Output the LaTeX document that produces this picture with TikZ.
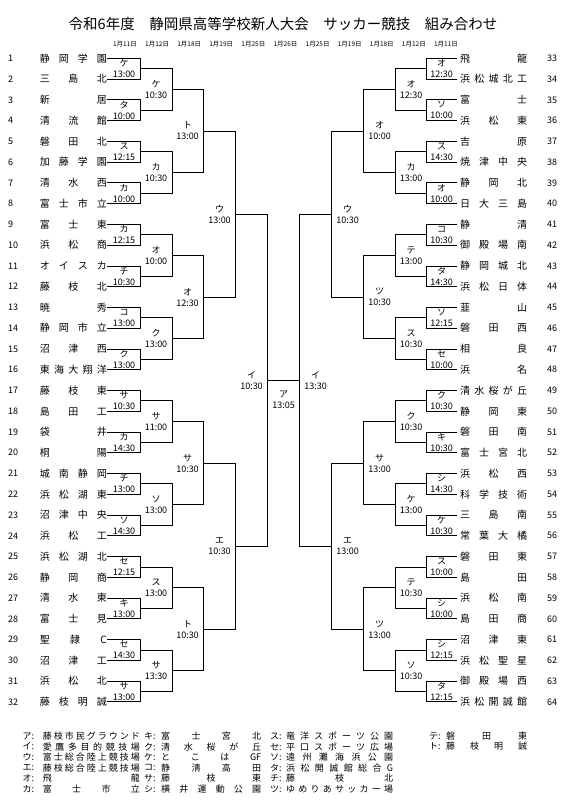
\documentclass[tikz,border=0pt]{standalone}
\usepackage{fontspec}
\setmainfont{Noto Sans CJK JP}
\usetikzlibrary{calc}
\def\endmark{\relax}
\def\spreadfirst#1{#1\spreadi}
\def\spreadi#1{\def\tmparg{#1}\ifx\tmparg\endmark\else\hfill#1\expandafter\spreadi\fi}
\newcommand\spreadname[2]{\hbox to #1{\expandafter\spreadfirst#2\relax}}
\begin{document}
\begin{tikzpicture}[x=1pt,y=-1pt,
  bl/.style={line width=0.8pt,black},
  tname/.style={inner sep=0pt,font=\fontsize{10}{10}\selectfont},
  tnum/.style={inner sep=0pt,font=\fontsize{9}{9}\selectfont,anchor=west},
  lab/.style={inner sep=0pt,align=center,font=\fontsize{9}{11}\selectfont},
  datel/.style={inner sep=0pt,font=\fontsize{6.5}{7}\selectfont},
  leg/.style={inner sep=0pt,anchor=west,font=\fontsize{9}{9}\selectfont}]
\useasboundingbox (0,0) rectangle (568,805);
\fill[white] (0,0) rectangle (568,805);
% title and dates
\node[inner sep=0pt,font=\fontsize{14.5}{15}\selectfont] (title) at (283,24) {令和6年度　静岡県高等学校新人大会　サッカー競技　組み合わせ};
\foreach \d [count=\i] in {11,12,18,19,25,26,25,19,18,12,11}
  \node[datel] (date\i) at ({125+(\i-1)*32.1},44) {1月\d 日};
% columns
\coordinate (XL1) at (140.5,0);\coordinate (XL2) at (172,0);\coordinate (XL3) at (203.5,0);
\coordinate (XL4) at (235.5,0);\coordinate (XL5) at (267.5,0);
\coordinate (XR1) at (426.5,0);\coordinate (XR2) at (395,0);\coordinate (XR3) at (363.5,0);
\coordinate (XR4) at (331.5,0);\coordinate (XR5) at (299.5,0);
% teams
\foreach \nm [count=\i] in {静岡学園,三島北,新居,清流館,磐田北,加藤学園,清水西,富士市立,富士東,浜松商,オイスカ,藤枝北,暁秀,静岡市立,沼津西,東海大翔洋,藤枝東,島田工,袋井,桐陽,城南静岡,浜松湖東,沼津中央,浜松工,浜松湖北,静岡商,清水東,富士見,聖隷C,沼津工,浜松北,藤枝明誠} {
  \node[tname,anchor=east] (t\i) at (107,{58.3+(\i-1)*20.76}) {\spreadname{67pt}{\nm}};
  \node[tnum] (n\i) at (8,{58.3+(\i-1)*20.76}) {\i};
}
\foreach \nm [count=\i from 33] in {飛龍,浜松城北工,富士,浜松東,吉原,焼津中央,静岡北,日大三島,静清,御殿場南,静岡城北,浜松日体,韮山,磐田西,相良,浜名,清水桜が丘,静岡東,磐田南,富士宮北,浜松西,科学技術,三島南,常葉大橘,磐田東,島田,浜松南,島田商,沼津東,浜松聖星,御殿場西,浜松開誠館} {
  \node[tname,anchor=west] (t\i) at (460,{58.3+(\i-33)*20.76}) {\spreadname{67pt}{\nm}};
  \node[tnum] (n\i) at (547,{58.3+(\i-33)*20.76}) {\i};
}
% bracket level 1
\foreach \j in {1,...,16} {
  \pgfmathtruncatemacro\ta{2*\j-1}\pgfmathtruncatemacro\tb{2*\j}
  \draw[bl] (t\ta.east) -- (t\ta.east -| XL1) |- (t\tb.east);
  \coordinate (la\j) at ($(t\ta.east -| XL1)!0.5!(t\tb.east -| XL1)$);
  \pgfmathtruncatemacro\ra{2*\j+31}\pgfmathtruncatemacro\rb{2*\j+32}
  \draw[bl] ([xshift=-3pt]t\ra.west) -- (t\ra.west -| XR1) |- ([xshift=-3pt]t\rb.west);
  \coordinate (ra\j) at ($(t\ra.west -| XR1)!0.5!(t\rb.west -| XR1)$);
}
\foreach \k in {1,...,8} {
  \pgfmathtruncatemacro\ta{2*\k-1}\pgfmathtruncatemacro\tb{2*\k}
  \draw[bl] (la\ta) -- (la\ta -| XL2) |- (la\tb);
  \coordinate (lb\k) at ($(la\ta -| XL2)!0.5!(la\tb -| XL2)$);
  \draw[bl] (ra\ta) -- (ra\ta -| XR2) |- (ra\tb);
  \coordinate (rb\k) at ($(ra\ta -| XR2)!0.5!(ra\tb -| XR2)$);
}
\foreach \k in {1,...,4} {
  \pgfmathtruncatemacro\ta{2*\k-1}\pgfmathtruncatemacro\tb{2*\k}
  \draw[bl] (lb\ta) -- (lb\ta -| XL3) |- (lb\tb);
  \coordinate (lc\k) at ($(lb\ta -| XL3)!0.5!(lb\tb -| XL3)$);
  \draw[bl] (rb\ta) -- (rb\ta -| XR3) |- (rb\tb);
  \coordinate (rc\k) at ($(rb\ta -| XR3)!0.5!(rb\tb -| XR3)$);
}
\foreach \k in {1,2} {
  \pgfmathtruncatemacro\ta{2*\k-1}\pgfmathtruncatemacro\tb{2*\k}
  \draw[bl] (lc\ta) -- (lc\ta -| XL4) |- (lc\tb);
  \coordinate (ld\k) at ($(lc\ta -| XL4)!0.5!(lc\tb -| XL4)$);
  \draw[bl] (rc\ta) -- (rc\ta -| XR4) |- (rc\tb);
  \coordinate (rd\k) at ($(rc\ta -| XR4)!0.5!(rc\tb -| XR4)$);
}
\draw[bl] (ld1) -- (ld1 -| XL5) |- (ld2);
\coordinate (le) at ($(ld1 -| XL5)!0.5!(ld2 -| XL5)$);
\draw[bl] (rd1) -- (rd1 -| XR5) |- (rd2);
\coordinate (re) at ($(rd1 -| XR5)!0.5!(rd2 -| XR5)$);
\draw[bl] (le) -- (re);
% match labels
\foreach \lt/\tm [count=\j] in {ケ/13:00,タ/10:00,ス/12:15,カ/10:00,カ/12:15,チ/10:30,コ/13:00,ク/13:00,サ/10:30,カ/14:30,チ/13:00,ソ/14:30,セ/12:15,キ/13:00,セ/14:30,サ/13:00}
  \node[lab] (mla\j) at ($(la\j)+(-16.5,0)$) {\lt\\\tm};
\foreach \lt/\tm [count=\j] in {ケ/10:30,カ/10:30,オ/10:00,ク/13:00,サ/11:00,ソ/13:00,ス/13:00,サ/13:30}
  \node[lab] (mlb\j) at ($(lb\j)+(-16,0)$) {\lt\\\tm};
\foreach \lt/\tm [count=\j] in {ト/13:00,オ/12:30,サ/10:30,ト/10:30}
  \node[lab] (mlc\j) at ($(lc\j)+(-16,0)$) {\lt\\\tm};
\foreach \lt/\tm [count=\j] in {ウ/13:00,エ/10:30}
  \node[lab] (mld\j) at ($(ld\j)+(-16,0)$) {\lt\\\tm};
\node[lab] (mle) at ($(le)+(-16,0)$) {イ\\10:30};
\foreach \lt/\tm [count=\j] in {オ/12:30,ソ/10:00,ス/14:30,オ/10:00,コ/10:30,タ/14:30,ソ/12:15,セ/10:00,ク/10:30,キ/10:30,シ/14:30,ケ/10:30,ス/10:00,シ/10:00,シ/12:15,タ/12:15}
  \node[lab] (mra\j) at ($(ra\j)+(15,0)$) {\lt\\\tm};
\foreach \lt/\tm [count=\j] in {オ/12:30,カ/13:00,テ/13:00,ス/10:30,ク/10:30,ケ/13:00,テ/10:30,ソ/10:30}
  \node[lab] (mrb\j) at ($(rb\j)+(16,0)$) {\lt\\\tm};
\foreach \lt/\tm [count=\j] in {オ/10:00,ツ/10:30,サ/13:00,ツ/13:00}
  \node[lab] (mrc\j) at ($(rc\j)+(16,0)$) {\lt\\\tm};
\foreach \lt/\tm [count=\j] in {ウ/10:30,エ/13:00}
  \node[lab] (mrd\j) at ($(rd\j)+(16,0)$) {\lt\\\tm};
\node[lab] (mre) at ($(re)+(16,0)$) {イ\\13:30};
\node[lab] (final) at ($(le)!0.5!(re)+(0,20)$) {ア\\13:05};
% legend
\foreach \lt/\nm [count=\i] in {ア/藤枝市民グラウンド,イ/愛鷹多目的競技場,ウ/富士総合陸上競技場,エ/藤枝総合陸上競技場,オ/飛龍,カ/富士市立} {
  \node[leg] (lk\i) at (22.5,{736+(\i-1)*10.6}) {\lt:};
  \node[leg] (lv\i) at (42.7,{736+(\i-1)*10.6}) {\spreadname{97pt}{\nm}};
}
\foreach \lt/\nm [count=\i] in {キ/富士宮北,ク/清水桜が丘,ケ/とこは{GF},コ/静清高田,サ/藤枝東,シ/横井運動公園} {
  \node[leg] (lk\i b) at (144,{736+(\i-1)*10.6}) {\lt:};
  \node[leg] (lv\i b) at (161,{736+(\i-1)*10.6}) {\spreadname{100pt}{\nm}};
}
\foreach \lt/\nm [count=\i] in {ス/竜洋スポーツ公園,セ/平口スポーツ広場,ソ/遠州灘海浜公園,タ/浜松開誠館総合G,チ/藤枝北,ツ/ゆめりあサッカー場} {
  \node[leg] (lk\i c) at (270,{736+(\i-1)*10.6}) {\lt:};
  \node[leg] (lv\i c) at (286,{736+(\i-1)*10.6}) {\spreadname{107pt}{\nm}};
}
\foreach \lt/\nm [count=\i] in {テ/磐田東,ト/藤枝明誠} {
  \node[leg] (lk\i d) at (429,{736+(\i-1)*10.6}) {\lt:};
  \node[leg] (lv\i d) at (446,{736+(\i-1)*10.6}) {\spreadname{81pt}{\nm}};
}
\end{tikzpicture}
\end{document}
